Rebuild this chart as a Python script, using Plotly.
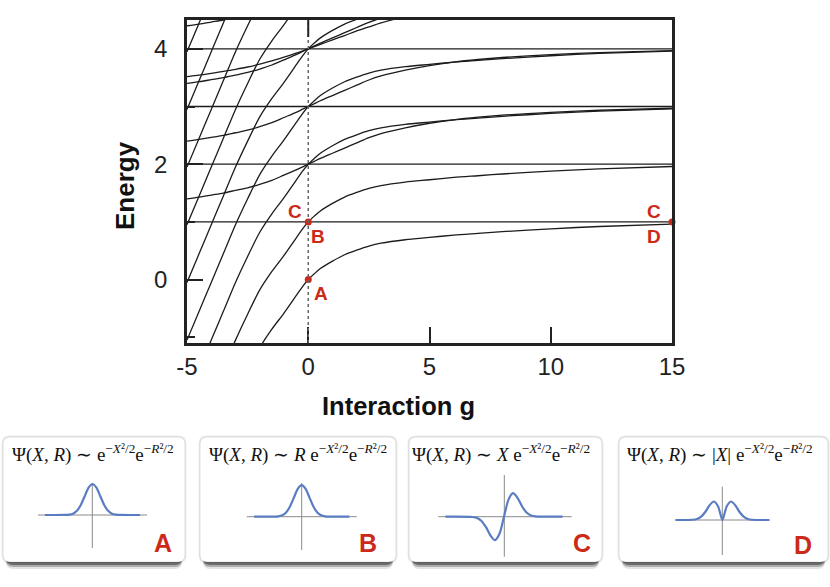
import plotly.graph_objects as go

# ---------------- data ----------------
# interaction strength grid
G = [-5, -4.5, -4, -3.5, -3, -2.5, -2, -1.5, -1, -0.5, -0.25, 0, 0.25, 0.5,
     1, 1.5, 2, 2.5, 3, 4, 5, 6, 7, 8, 10, 12, 15]
# even relative branches (energy shift relative to the g=0 level)
E0 = [-4.05, -3.55, -3.05, -2.55, -2.05, -1.6, -1.18, -0.86, -0.58, -0.28, -0.13, 0, 0.1, 0.19,
      0.32, 0.43, 0.51, 0.58, 0.63, 0.69, 0.73, 0.77, 0.8, 0.83, 0.88, 0.92, 0.96]
E1 = [-0.6, -0.57, -0.535, -0.5, -0.455, -0.41, -0.35, -0.28, -0.19, -0.1, -0.05, 0, 0.05, 0.1,
      0.19, 0.28, 0.37, 0.46, 0.53, 0.63, 0.71, 0.77, 0.815, 0.85, 0.9, 0.935, 0.97]
E2 = [-0.48, -0.455, -0.425, -0.39, -0.355, -0.315, -0.265, -0.21, -0.145, -0.075, -0.038, 0, 0.038, 0.077,
      0.155, 0.23, 0.31, 0.38, 0.45, 0.56, 0.65, 0.72, 0.77, 0.81, 0.87, 0.91, 0.95]
# level offsets (energy at g = 0) of each family
E0_LEVELS = [0, 1, 2, 3, 4, 5, 6, 7, 8]
E1_LEVELS = [2, 3, 4, 5]
E2_LEVELS = [4, 5]
FLAT_LEVELS = [1, 2, 3, 4]

X_TICKS = [-5, 0, 5, 10, 15]
Y_TICKS = [0, 2, 4]

# marked states
PT_G = [0, 0, 15]
PT_E = [0, 1, 1]
LABELS = [("C", -0.54, 1.18), ("B", 0.41, 0.745), ("A", 0.51, -0.25),
          ("C", 14.26, 1.18), ("D", 14.26, 0.745)]

# wave functions in the cards
XS_AB = [-6.1, -3.5, -3, -2.5, -2, -1.5, -1, -0.5, 0, 0.5, 1, 1.5, 2, 2.5, 3, 3.5, 6.1]
PSI_A = [0, 0.002, 0.011, 0.044, 0.135, 0.325, 0.607, 0.882, 1, 0.882, 0.607, 0.325, 0.135, 0.044, 0.011, 0.002, 0]
PSI_B = [0, 0.002, 0.011, 0.044, 0.135, 0.325, 0.607, 0.882, 1, 0.882, 0.607, 0.325, 0.135, 0.044, 0.011, 0.002, 0]
XS_C = [-6.5, -3.5, -3, -2.5, -2, -1.5, -1, -0.5, 0, 0.5, 1, 1.5, 2, 2.5, 3, 3.5, 6.5]
PSI_C = [0, -0.013, -0.055, -0.181, -0.446, -0.803, -1, -0.728, 0, 0.728, 1, 0.803, 0.446, 0.181, 0.055, 0.013, 0]
XS_D = [-5.5, -3.5, -3, -2.5, -2, -1.5, -1, -0.5, 0, 0.5, 1, 1.5, 2, 2.5, 3, 3.5, 5.5]
PSI_D = [0, 0.013, 0.055, 0.181, 0.446, 0.803, 1, 0.728, 0, 0.728, 1, 0.803, 0.446, 0.181, 0.055, 0.013, 0]

SUP = "<sup>−<i>X</i>²/2</sup>e<sup>−<i>R</i>²/2</sup>"
FORMULAS = [
    "Ψ(<i>X</i>, <i>R</i>) ∼ e" + SUP,
    "Ψ(<i>X</i>, <i>R</i>) ∼ <i>R</i> e" + SUP,
    "Ψ(<i>X</i>, <i>R</i>) ∼ <i>X</i> e" + SUP,
    "Ψ(<i>X</i>, <i>R</i>) ∼ |<i>X</i>| e" + SUP,
]
CARD_LETTERS = ["A", "B", "C", "D"]

# ---------------- layout geometry (pixels) ----------------
W, H = 830, 587
def PX(x): return x / W
def PY(y): return 1 - y / H

RED = "#cc2a18"
BLUE = "#5a7cc2"
INK = "#1c1c1c"

fig = go.Figure()

for lv in FLAT_LEVELS:
    fig.add_trace(go.Scatter(x=[G[0], G[-1]], y=[lv, lv], mode="lines",
                             line=dict(color=INK, width=1.3), hoverinfo="skip", showlegend=False))
for branch, levels in ((E0, E0_LEVELS), (E1, E1_LEVELS), (E2, E2_LEVELS)):
    for lv in levels:
        fig.add_trace(go.Scatter(x=G, y=[lv + e for e in branch], mode="lines",
                                 line=dict(color=INK, width=1.3, shape="spline", smoothing=0.8),
                                 hoverinfo="skip", showlegend=False))

fig.add_trace(go.Scatter(x=PT_G, y=PT_E, mode="markers", marker=dict(color=RED, size=7),
                         cliponaxis=False, hoverinfo="skip", showlegend=False))

annotations = []
for t, gx, ey in LABELS:
    annotations.append(dict(x=gx, y=ey, xref="x", yref="y", text="<b>%s</b>" % t, showarrow=False,
                            xanchor="center", yanchor="middle",
                            font=dict(family="Liberation Sans", size=19, color=RED)))

annotations.append(dict(x=PX(125), y=PY(186), xref="paper", yref="paper", text="<b>Energy</b>",
                        textangle=-90, showarrow=False, xanchor="center", yanchor="middle",
                        font=dict(family="Liberation Sans", size=26, color="#111")))
annotations.append(dict(x=PX(398), y=PY(406), xref="paper", yref="paper", text="<b>Interaction g</b>",
                        showarrow=False, xanchor="center", yanchor="middle",
                        font=dict(family="Liberation Sans", size=25.5, color="#111")))

shapes = []
shapes.append(dict(type="line", xref="x", yref="y", x0=0, x1=0, y0=-1.1, y1=4.5,
                   line=dict(color="#666", width=1.5, dash="dot"), layer="above"))
shapes.append(dict(type="line", xref="x", yref="y", x0=0, x1=0, y0=4.5, y1=4.5 - 17 / 57.7,
                   line=dict(color="#222", width=2), layer="above"))

# ---------------- cards ----------------
CARDS = [(3, 185), (200, 396), (409, 602), (619, 828)]
CARD_Y0, CARD_Y1 = 437, 562
FORM_X = [10, 206.7, 410, 625]
LETTER_POS = [(163, 543), (368.3, 543.3), (581.7, 543.3), (803.3, 545)]
MINI = [  # cx, cy, x px/unit, amplitude px, horiz line x0,x1, vert line y0,y1, vert x
    (92.5, 515, 7.8, 31, 38, 147, 483, 548, 92.3),
    (301.7, 516.7, 7.8, 31.5, 246.7, 356.7, 483, 550, 301.7),
    (504.0, 516.7, 9.0, 23.5, 438.3, 571.7, 475, 556.7, 504.3),
    (722.4, 520, 8.5, 18.5, 675, 770, 486.7, 555, 722.3),
]
WAVES = [(XS_AB, PSI_A), (XS_AB, PSI_B), (XS_C, PSI_C), (XS_D, PSI_D)]


def rrect(x0, y0, x1, y1, r):
    pts = [
        ("M", (x0 + r, y0)), ("L", (x1 - r, y0)), ("Q", (x1, y0), (x1, y0 + r)),
        ("L", (x1, y1 - r)), ("Q", (x1, y1), (x1 - r, y1)), ("L", (x0 + r, y1)),
        ("Q", (x0, y1), (x0, y1 - r)), ("L", (x0, y0 + r)), ("Q", (x0, y0), (x0 + r, y0)),
    ]
    s = ""
    for p in pts:
        coords = " ".join("%.5f,%.5f" % (PX(a), PY(b)) for a, b in p[1:])
        s += "%s %s " % (p[0], coords)
    return s + "Z"


for i, (cx0, cx1) in enumerate(CARDS):
    shapes.append(dict(type="path", xref="paper", yref="paper",
                       path=rrect(cx0 - 1.5, CARD_Y0 - 1.5, cx1 + 1.5, CARD_Y1 + 1.5, 8),
                       fillcolor="rgba(0,0,0,0.07)", line=dict(width=0), layer="below"))
    for dy, a in ((7, 0.12), (5, 0.28), (3, 0.45)):
        shapes.append(dict(type="path", xref="paper", yref="paper",
                           path=rrect(cx0 + 3, CARD_Y0 + dy, cx1 - 3, CARD_Y1 + dy, 7),
                           fillcolor="rgba(30,30,30,%.2f)" % a, line=dict(width=0), layer="below"))
    shapes.append(dict(type="path", xref="paper", yref="paper", path=rrect(cx0, CARD_Y0, cx1, CARD_Y1, 7),
                       fillcolor="white", line=dict(color="rgba(0,0,0,0.12)", width=1), layer="below"))

    cx, cy, sx, amp, hx0, hx1, vy0, vy1, vx = MINI[i]
    shapes.append(dict(type="line", xref="paper", yref="paper", x0=PX(hx0), x1=PX(hx1), y0=PY(cy), y1=PY(cy),
                       line=dict(color="#8a8a8a", width=1), layer="below"))
    shapes.append(dict(type="line", xref="paper", yref="paper", x0=PX(vx), x1=PX(vx), y0=PY(vy0), y1=PY(vy1),
                       line=dict(color="#8a8a8a", width=1), layer="below"))

    wd, hd = 72, 42
    n = i + 2
    fig.update_layout(**{
        "xaxis%d" % n: dict(domain=[PX(cx - wd), PX(cx + wd)], range=[-wd / sx, wd / sx], visible=False,
                            anchor="y%d" % n, fixedrange=True, automargin=False),
        "yaxis%d" % n: dict(domain=[PY(cy + hd), PY(cy - hd)], range=[-hd / amp, hd / amp], visible=False,
                            anchor="x%d" % n, fixedrange=True, automargin=False),
    })
    xs, ps = WAVES[i]
    fig.add_trace(go.Scatter(x=xs, y=ps, xaxis="x%d" % n, yaxis="y%d" % n, mode="lines",
                             line=dict(color=BLUE, width=2.2, shape="spline", smoothing=0.7),
                             hoverinfo="skip", showlegend=False))

    annotations.append(dict(x=PX(FORM_X[i]), y=PY(453), xref="paper", yref="paper", xanchor="left",
                            yanchor="middle", text=FORMULAS[i], showarrow=False,
                            font=dict(family="Liberation Serif", size=19, color="#111")))
    lx, ly = LETTER_POS[i]
    annotations.append(dict(x=PX(lx), y=PY(ly), xref="paper", yref="paper", text="<b>%s</b>" % CARD_LETTERS[i],
                            showarrow=False, xanchor="center", yanchor="middle",
                            font=dict(family="Liberation Sans", size=25, color=RED)))

fig.update_layout(
    width=W, height=H, autosize=False, margin=dict(l=0, r=0, t=0, b=0, pad=0),
    paper_bgcolor="white", plot_bgcolor="rgba(0,0,0,0)",
    xaxis=dict(domain=[PX(187), PX(672)], range=[-5, 15], tickvals=X_TICKS,
               ticktext=[str(v) for v in X_TICKS], automargin=False,
               ticks="inside", ticklen=16, tickwidth=2, tickcolor="#222",
               showline=True, linewidth=2.5, linecolor="#222", mirror=True,
               showgrid=False, zeroline=False,
               tickfont=dict(family="Liberation Sans", size=24, color="#222"), fixedrange=True),
    yaxis=dict(domain=[PY(343), PY(20)], range=[-1.1, 4.5], tickvals=Y_TICKS, automargin=False,
               ticks="inside", ticklen=16, tickwidth=2, tickcolor="#222",
               minor=dict(tickvals=[-1, 1, 3], ticks="inside", ticklen=8, tickwidth=2, tickcolor="#222"),
               showline=True, linewidth=2.5, linecolor="#222", mirror=True,
               showgrid=False, zeroline=False, ticklabelstandoff=12,
               tickfont=dict(family="Liberation Sans", size=24, color="#222"), fixedrange=True),
    shapes=shapes, annotations=annotations, showlegend=False,
)

fig.write_html("out.html", config={"responsive": False, "displayModeBar": False},
               post_script="document.body.style.margin='0';document.body.style.overflow='hidden';")
